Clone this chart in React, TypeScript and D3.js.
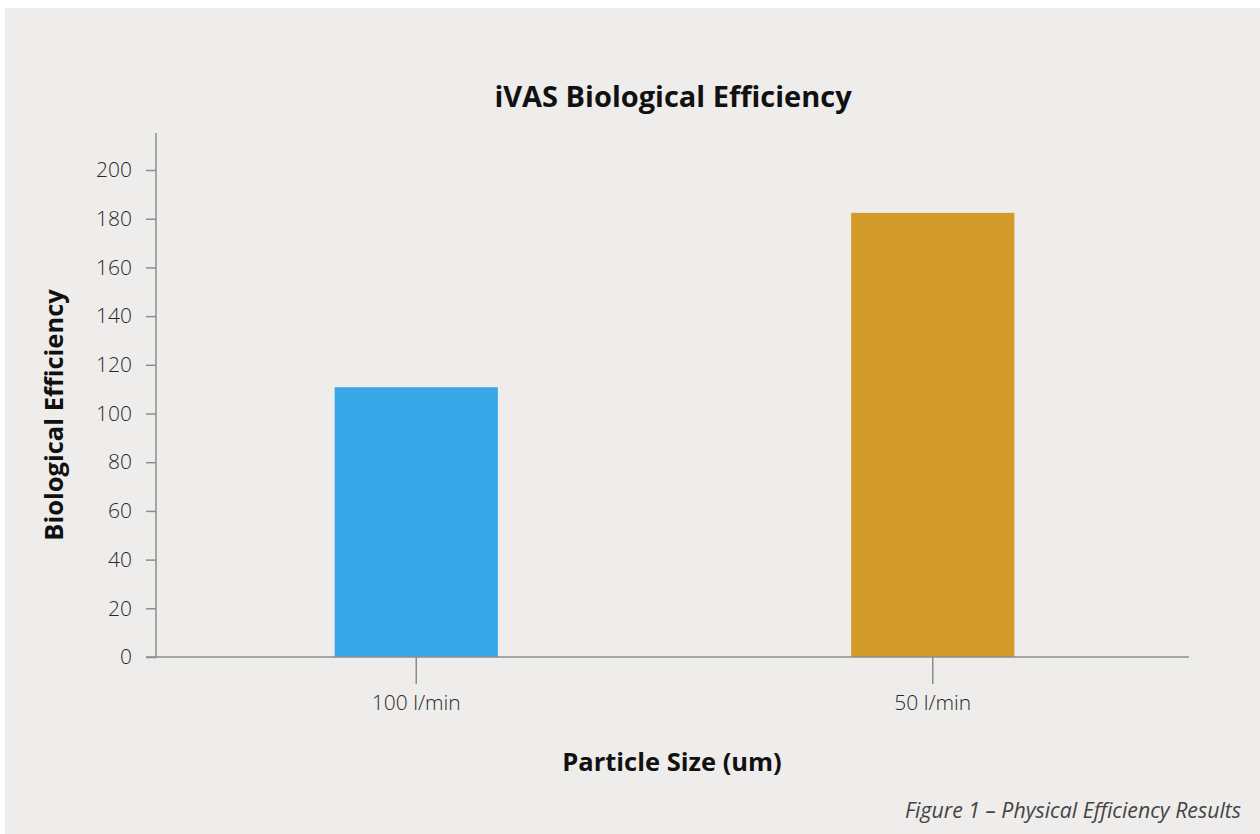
import React, { useEffect, useRef } from "react";
import * as d3 from "d3";

const categories = ["100 l/min", "50 l/min"];
const values = [110.8, 182.4];
const colors = ["#38a8e8", "#d49a29"];
const yTicks = [0, 20, 40, 60, 80, 100, 120, 140, 160, 180, 200];

const W = 1260;
const H = 834;
const FONT = "'Open Sans', 'Noto Sans', sans-serif";

const App = () => {
  const svgRef = useRef<SVGSVGElement>(null);

  useEffect(() => {
    const svg = d3.select(svgRef.current);
    svg.selectAll("*").remove();

    const left = 156, right = 1189, top = 133, bottom = 657;

    svg.append("rect").attr("width", W).attr("height", H).attr("fill", "#fff");
    svg.append("rect").attr("x", 5).attr("y", 8).attr("width", W - 5).attr("height", H - 8).attr("fill", "#eeedeb");

    const x = d3.scaleBand().domain(categories).range([left + 2, right + 2]);
    const y = d3.scaleLinear().domain([0, 215.2]).range([bottom, top]);
    const barW = x.bandwidth() * 0.316;

    // bars
    svg.append("g")
      .selectAll("rect")
      .data(values)
      .join("rect")
      .attr("x", (d, i) => x(categories[i])! + x.bandwidth() / 2 - barW / 2)
      .attr("y", d => y(d))
      .attr("width", barW)
      .attr("height", d => y(0) - y(d))
      .attr("fill", (d, i) => colors[i]);

    // y axis
    const yAxis = svg.append("g")
      .attr("transform", `translate(${left},0)`)
      .call(d3.axisLeft(y).tickValues(yTicks).tickSize(10).tickPadding(14));
    yAxis.select(".domain").attr("stroke", "#8c8c8c").attr("stroke-width", 1.5)
      .attr("d", `M0,${top}V${bottom}`);
    yAxis.selectAll(".tick line").attr("stroke", "#8c8c8c").attr("stroke-width", 1.5);
    yAxis.selectAll(".tick text")
      .attr("font-family", FONT).attr("font-size", 21).attr("fill", "#2a2a2a")
      .attr("font-weight", 300);

    // x axis
    const xAxis = svg.append("g")
      .attr("transform", `translate(0,${bottom})`)
      .call(d3.axisBottom(x).tickSize(27).tickPadding(11));
    xAxis.select(".domain").attr("stroke", "#8c8c8c").attr("stroke-width", 1.5)
      .attr("d", `M${left - 10},0H${right}`);
    xAxis.selectAll(".tick line").attr("stroke", "#8c8c8c").attr("stroke-width", 1.5);
    xAxis.selectAll(".tick text")
      .attr("font-family", FONT).attr("font-size", 21).attr("fill", "#2a2a2a")
      .attr("font-weight", 300);

    // titles
    svg.append("text")
      .attr("x", 673).attr("y", 107)
      .attr("text-anchor", "middle")
      .attr("font-family", FONT).attr("font-size", 29).attr("font-weight", 700)
      .attr("fill", "#111")
      .text("iVAS Biological Efficiency");

    svg.append("text")
      .attr("x", 672).attr("y", 771)
      .attr("text-anchor", "middle")
      .attr("font-family", FONT).attr("font-size", 25.5).attr("font-weight", 700)
      .attr("fill", "#111")
      .text("Particle Size (um)");

    svg.append("text")
      .attr("transform", `translate(63,415) rotate(-90)`)
      .attr("text-anchor", "middle")
      .attr("font-family", FONT).attr("font-size", 25.5).attr("font-weight", 700)
      .attr("fill", "#111")
      .text("Biological Efficiency");

    svg.append("text")
      .attr("x", 1241).attr("y", 818)
      .attr("text-anchor", "end")
      .attr("font-family", FONT).attr("font-size", 21.3).attr("font-style", "italic")
      .attr("fill", "#444")
      .text("Figure 1 \u2013 Physical Efficiency Results");
  }, []);

  return (
    <svg ref={svgRef} width={W} height={H}
      style={{ position: "absolute", left: 0, top: 0, display: "block" }} />
  );
};

export default App;
